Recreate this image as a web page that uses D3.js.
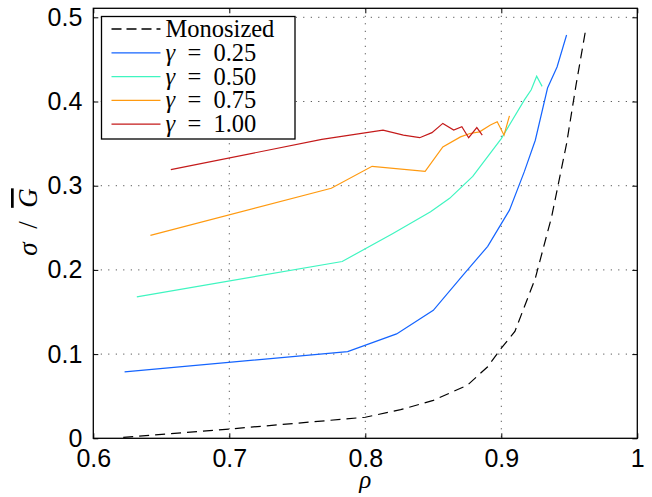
<!DOCTYPE html>
<html>
<head>
<meta charset="utf-8">
<script src="https://cdn.jsdelivr.net/npm/d3@7"></script>
<style>
  body { margin: 0; background: #fff; }
  svg { display: block; }
  .tick text { font-family: "Liberation Sans", Arial, sans-serif; }
</style>
</head>
<body>
<svg id="canvas" width="652" height="497"></svg>
<script>
// packing fraction (rho) vs sigma / mean G
let monoRho = [0.622, 0.7, 0.8, 0.826, 0.85, 0.875, 0.89, 0.9, 0.91, 0.925, 0.937, 0.948, 0.955, 0.962];
let monoVal = [0.001, 0.011, 0.025, 0.034, 0.045, 0.063, 0.085, 0.107, 0.127, 0.19, 0.263, 0.35, 0.42, 0.485];

let g25Rho = [0.623, 0.787, 0.823, 0.85, 0.872, 0.89, 0.906, 0.917, 0.925, 0.934, 0.941, 0.948];
let g25Val = [0.079, 0.103, 0.124, 0.152, 0.194, 0.228, 0.271, 0.317, 0.354, 0.416, 0.441, 0.479];

let g50Rho = [0.632, 0.783, 0.82, 0.848, 0.862, 0.879, 0.9, 0.917, 0.922, 0.926, 0.93];
let g50Val = [0.168, 0.21, 0.243, 0.269, 0.285, 0.311, 0.356, 0.402, 0.414, 0.43, 0.418];

let g75Rho = [0.642, 0.775, 0.805, 0.844, 0.857, 0.87, 0.877, 0.884, 0.892, 0.897, 0.902, 0.906];
let g75Val = [0.241, 0.297, 0.323, 0.317, 0.346, 0.358, 0.362, 0.364, 0.372, 0.376, 0.36, 0.383];

let g100Rho = [0.657, 0.768, 0.813, 0.828, 0.84, 0.849, 0.857, 0.865, 0.871, 0.876, 0.882, 0.886];
let g100Val = [0.319, 0.355, 0.366, 0.36, 0.357, 0.363, 0.374, 0.366, 0.37, 0.357, 0.369, 0.36];

let xTicks = [0.6, 0.7, 0.8, 0.9, 1];
let yTicks = [0, 0.1, 0.2, 0.3, 0.4, 0.5];

let seriesNames = ["Monosized", "0.25", "0.50", "0.75", "1.00"];
let seriesColors = ["#000000", "#1464ff", "#3ff5c0", "#ff9a10", "#c41a1a"];

let series = [
    { rho: monoRho, val: monoVal },
    { rho: g25Rho, val: g25Val },
    { rho: g50Rho, val: g50Val },
    { rho: g75Rho, val: g75Val },
    { rho: g100Rho, val: g100Val }
];

let canvas = d3.select('#canvas');
let margin = { left: 93.3, right: 14.7, top: 8.3, bottom: 58.7 };
let w = 652 - margin.left - margin.right;
let h = 497 - margin.top - margin.bottom;

let x = d3.scaleLinear().domain([0.6, 1]).range([0, w]);
let y = d3.scaleLinear().domain([0, 0.5107]).range([h, 0]);

let g = canvas.append("g").attr("transform", `translate(${margin.left},${margin.top})`);

// dotted grid
g.selectAll(".vgrid").data(xTicks.slice(1, -1)).enter().append("line")
    .attr("x1", d => x(d)).attr("x2", d => x(d))
    .attr("y1", 0).attr("y2", h)
    .attr("stroke", "#333").attr("stroke-dasharray", "1,6.5");
g.selectAll(".hgrid").data(yTicks.slice(1)).enter().append("line")
    .attr("x1", 0).attr("x2", w)
    .attr("y1", d => y(d)).attr("y2", d => y(d))
    .attr("stroke", "#333").attr("stroke-dasharray", "1,6.5");

// axes with inward ticks
let xAxis = g.append("g").attr("transform", `translate(0,${h})`)
    .call(d3.axisBottom(x).tickValues(xTicks).tickFormat(d3.format("~g")).tickSizeInner(-5).tickSizeOuter(0).tickPadding(11));
let yAxis = g.append("g")
    .call(d3.axisLeft(y).tickValues(yTicks).tickFormat(d3.format("~g")).tickSizeInner(-5).tickSizeOuter(0).tickPadding(11));
g.append("g").call(d3.axisTop(x).tickValues(xTicks).tickFormat("").tickSizeInner(-5).tickSizeOuter(0));
g.append("g").attr("transform", `translate(${w},0)`)
    .call(d3.axisRight(y).tickValues(yTicks).tickFormat("").tickSizeInner(-5).tickSizeOuter(0));

g.selectAll(".domain").remove();
g.selectAll(".tick line").attr("stroke", "#000");
g.selectAll(".tick text").attr("font-size", 25).attr("fill", "#000");
xAxis.selectAll(".tick text").attr("dy", "0.71em");

// series lines
let line = d3.line().x(d => x(d[0])).y(d => y(d[1]));
series.forEach((s, i) => {
    let pts = s.rho.map((r, k) => [r, s.val[k]]);
    g.append("path")
        .attr("d", line(pts))
        .attr("fill", "none")
        .attr("stroke", seriesColors[i])
        .attr("stroke-width", 1.2)
        .attr("stroke-dasharray", i === 0 ? "10,6" : null);
});

// frame
g.append("rect").attr("width", w).attr("height", h)
    .attr("fill", "none").attr("stroke", "#000").attr("stroke-width", 1.3);

// legend
let leg = canvas.append("g").attr("transform", "translate(101.5,16.5)");
leg.append("rect").attr("width", 193.5).attr("height", 122.5)
    .attr("fill", "#fff").attr("stroke", "#000").attr("stroke-width", 1.3);
seriesNames.forEach((name, i) => {
    let ry = 12.5 + i * 23.8;
    leg.append("line")
        .attr("x1", 10).attr("x2", 59).attr("y1", ry).attr("y2", ry)
        .attr("stroke", seriesColors[i]).attr("stroke-width", 1.3)
        .attr("stroke-dasharray", i === 0 ? "10,5" : null);
    let t = leg.append("text")
        .attr("x", 64).attr("y", ry + 8)
        .attr("font-family", "'Liberation Serif', 'Times New Roman', serif")
        .attr("font-size", 24.5);
    if (i === 0) {
        t.text(name);
    } else {
        t.append("tspan").attr("font-style", "italic").text("γ");
        t.append("tspan").attr("xml:space", "preserve").text("  =  " + name);
    }
});

// axis labels
canvas.append("text")
    .attr("x", margin.left + x(0.8)).attr("y", 488)
    .attr("text-anchor", "middle")
    .attr("font-family", "'Liberation Serif', serif")
    .attr("font-style", "italic").attr("font-size", 25)
    .text("ρ");

let yl = canvas.append("text")
    .attr("transform", "translate(37,222) rotate(-90)")
    .attr("text-anchor", "middle")
    .attr("font-family", "'Liberation Serif', serif")
    .attr("font-size", 27);
yl.append("tspan").attr("font-style", "italic").text("σ");
yl.append("tspan").attr("xml:space", "preserve").text("  /  ");
yl.append("tspan").attr("font-style", "italic").attr("text-decoration", "overline").text("G");
</script>
</body>
</html>
